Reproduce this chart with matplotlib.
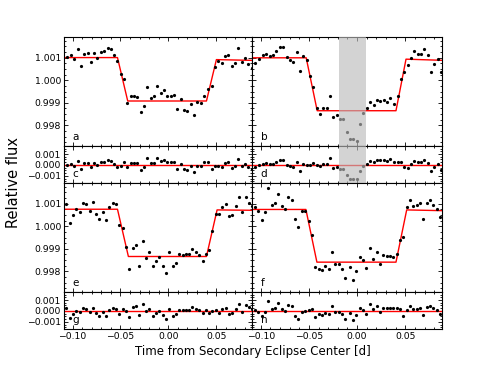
import numpy as np
import matplotlib
matplotlib.use('Agg')
import matplotlib.pyplot as plt
from matplotlib.ticker import MultipleLocator, FuncFormatter

# ---------------- data ----------------
time_a = [-0.1059, -0.1017, -0.0983, -0.0948, -0.0913, -0.0878, -0.0844, -0.0809, -0.0774, -0.0740,
          -0.0705, -0.0670, -0.0635, -0.0601, -0.0566, -0.0531, -0.0497, -0.0462, -0.0427, -0.0392,
          -0.0358, -0.0323, -0.0288, -0.0253, -0.0219, -0.0184, -0.0149, -0.0115, -0.0080, -0.0045,
          -0.0010, 0.0024, 0.0059, 0.0094, 0.0128, 0.0163, 0.0198, 0.0233, 0.0267, 0.0302,
          0.0344, 0.0378, 0.0413, 0.0455, 0.0490, 0.0524, 0.0559, 0.0594, 0.0628, 0.0663,
          0.0698, 0.0733, 0.0767, 0.0802, 0.0837, 0.0872]
flux_a = [1.00103, 1.00112, 1.00094, 1.00140, 1.00063, 1.00115, 1.00119, 1.00079, 1.00119, 1.00099,
          1.00125, 1.00131, 1.00143, 1.00140, 1.00110, 1.00085, 1.00029, 1.00005, 0.99899, 0.99929,
          0.99930, 0.99926, 0.99858, 0.99886, 0.99970, 0.99923, 0.99929, 0.99974, 0.99945, 0.99957,
          0.99932, 0.99932, 0.99933, 0.99871, 0.99917, 0.99868, 0.99865, 0.99895, 0.99846, 0.99902,
          0.99899, 0.99932, 0.99960, 0.99973, 1.00057, 1.00085, 1.00076, 1.00109, 1.00113, 1.00063,
          1.00076, 1.00143, 1.00082, 1.00097, 1.00070, 1.00053]

time_b = [-0.1055, -0.1021, -0.0976, -0.0941, -0.0906, -0.0872, -0.0836, -0.0802, -0.0768, -0.0732,
          -0.0698, -0.0664, -0.0628, -0.0594, -0.0559, -0.0524, -0.0490, -0.0455, -0.0420, -0.0385,
          -0.0351, -0.0316, -0.0281, -0.0247, -0.0211, -0.0175, -0.0143, -0.0107, -0.0073, -0.0039,
          -0.0003, 0.0031, 0.0066, 0.0101, 0.0135, 0.0170, 0.0205, 0.0240, 0.0274, 0.0309,
          0.0344, 0.0378, 0.0420, 0.0455, 0.0490, 0.0524, 0.0559, 0.0594, 0.0628, 0.0663,
          0.0698, 0.0732, 0.0768, 0.0802, 0.0836, 0.0872]
flux_b = [1.00077, 1.00094, 1.00110, 1.00118, 1.00108, 1.00110, 1.00128, 1.00147, 1.00147, 1.00101,
          1.00091, 1.00079, 1.00123, 1.00039, 1.00109, 1.00088, 1.00020, 0.99970, 0.99877, 0.99851,
          0.99877, 0.99877, 0.99929, 0.99837, 0.99847, 0.99830, 0.99830, 0.99773, 0.99740, 0.99740,
          0.99732, 0.99808, 0.99855, 0.99877, 0.99902, 0.99892, 0.99911, 0.99906, 0.99911, 0.99904,
          0.99921, 0.99896, 0.99929, 1.00006, 1.00037, 1.00065, 1.00099, 1.00128, 1.00115, 1.00115,
          1.00140, 1.00110, 1.00038, 1.00072, 1.00094, 1.00037]

time_e = [-0.1066, -0.1031, -0.0997, -0.0962, -0.0927, -0.0892, -0.0858, -0.0823, -0.0788, -0.0753,
          -0.0719, -0.0684, -0.0649, -0.0615, -0.0580, -0.0545, -0.0510, -0.0476, -0.0441, -0.0406,
          -0.0372, -0.0337, -0.0302, -0.0267, -0.0233, -0.0198, -0.0163, -0.0128, -0.0094, -0.0059,
          -0.0024, 0.0010, 0.0045, 0.0080, 0.0115, 0.0149, 0.0184, 0.0219, 0.0253, 0.0288,
          0.0323, 0.0358, 0.0392, 0.0427, 0.0462, 0.0497, 0.0531, 0.0566, 0.0601, 0.0635,
          0.0670, 0.0705, 0.0740, 0.0774, 0.0809, 0.0844, 0.0878]
flux_e = [1.00100, 1.00014, 1.00048, 1.00077, 1.00061, 1.00101, 1.00096, 1.00065, 1.00106, 1.00056,
          1.00030, 1.00064, 1.00027, 1.00083, 1.00104, 1.00096, 1.00005, 0.99994, 0.99908, 0.99812,
          0.99902, 0.99915, 0.99826, 0.99934, 0.99861, 0.99886, 0.99823, 0.99844, 0.99863, 0.99826,
          0.99793, 0.99886, 0.99823, 0.99838, 0.99879, 0.99871, 0.99879, 0.99876, 0.99898, 0.99885,
          0.99873, 0.99848, 0.99879, 0.99896, 0.99978, 1.00052, 1.00052, 1.00087, 1.00097, 1.00046,
          1.00051, 1.00091, 1.00131, 1.00062, 1.00128, 1.00104, 1.00091]

time_f = [-0.1059, -0.1024, -0.0990, -0.0955, -0.0920, -0.0885, -0.0851, -0.0816, -0.0781, -0.0747,
          -0.0712, -0.0677, -0.0642, -0.0608, -0.0573, -0.0538, -0.0500, -0.0465, -0.0434, -0.0399,
          -0.0365, -0.0330, -0.0295, -0.0260, -0.0226, -0.0191, -0.0156, -0.0122, -0.0076, -0.0042,
          -0.0007, 0.0028, 0.0063, 0.0097, 0.0132, 0.0167, 0.0201, 0.0236, 0.0271, 0.0306,
          0.0340, 0.0375, 0.0410, 0.0444, 0.0479, 0.0514, 0.0549, 0.0583, 0.0618, 0.0653,
          0.0688, 0.0722, 0.0757, 0.0792, 0.0826, 0.0861]
flux_f = [1.00083, 1.00067, 1.00026, 1.00062, 1.00168, 1.00094, 1.00103, 1.00144, 1.00088, 1.00074,
          1.00129, 1.00117, 1.00030, 0.99997, 1.00067, 1.00069, 1.00021, 0.99959, 0.99818, 0.99812,
          0.99805, 0.99826, 0.99809, 0.99886, 0.99834, 0.99834, 0.99809, 0.99770, 0.99821, 0.99761,
          0.99802, 0.99864, 0.99850, 0.99816, 0.99903, 0.99857, 0.99887, 0.99834, 0.99871, 0.99869,
          0.99870, 0.99864, 0.99879, 0.99940, 0.99954, 1.00083, 1.00115, 1.00091, 1.00093, 1.00101,
          1.00030, 1.00103, 1.00115, 1.00093, 1.00077, 1.00042]

# best-fit eclipse models (piecewise-linear nodes)
model_t_a = [-0.12, -0.0531, -0.0424, 0.0399, 0.0503, 0.095]
model_f_a = [1.00100, 1.00100, 0.99908, 0.99908, 1.00091, 1.00087]
model_t_b = [-0.12, -0.0528, -0.0414, 0.0403, 0.0507, 0.095]
model_f_b = [1.00099, 1.00099, 0.99865, 0.99865, 1.00093, 1.00087]
model_t_e = [-0.12, -0.0531, -0.0417, 0.0399, 0.0510, 0.095]
model_f_e = [1.00075, 1.00075, 0.99866, 0.99866, 1.00072, 1.00070]
model_t_f = [-0.12, -0.0531, -0.0417, 0.0403, 0.0514, 0.095]
model_f_f = [1.00074, 1.00074, 0.99841, 0.99841, 1.00072, 1.00068]

masked_span = (-0.0183, 0.0096)   # excluded interval in panels b / d

main_labels = ['a', 'b', 'e', 'f']
resid_labels = ['c', 'd', 'g', 'h']
xticks = [-0.10, -0.05, 0.00, 0.05]
main_yticks = [0.998, 0.999, 1.000, 1.001]
resid_yticks = [-0.001, 0.000, 0.001]

# ---------------- figure ----------------
W, H = 491, 367
fig = plt.figure(figsize=(W / 100, H / 100), dpi=100)

xl = [64, 252, 441.5]
rows = [(37, 146), (146, 183), (183, 292), (292, 329)]

def ax_at(col, row):
    x0, x1 = xl[col], xl[col + 1]
    y0, y1 = rows[row]
    return fig.add_axes([x0 / W, 1 - y1 / H, (x1 - x0) / W, (y1 - y0) / H])

def fmt(nd):
    return FuncFormatter(lambda v, p: ('%.*f' % (nd, v)).replace('-', '\u2212'))

XLIM = (-0.109, 0.0875)
TICKFS = 6.7

def style(ax, main, showx, showy):
    ax.set_xlim(*XLIM)
    ax.xaxis.set_major_locator(MultipleLocator(0.05))
    ax.xaxis.set_minor_locator(MultipleLocator(0.01))
    ax.yaxis.set_major_locator(MultipleLocator(0.001))
    ax.yaxis.set_minor_locator(MultipleLocator(0.00025))
    ax.xaxis.set_major_formatter(fmt(2))
    ax.yaxis.set_major_formatter(fmt(3))
    ax.tick_params(which='both', direction='in', top=True, right=True,
                   labelsize=TICKFS, width=0.6, pad=2.2)
    ax.tick_params(which='major', length=2.8)
    ax.tick_params(which='minor', length=1.4)
    if not showx:
        ax.tick_params(labelbottom=False)
    if not showy:
        ax.tick_params(labelleft=False)
    for s in ax.spines.values():
        s.set_linewidth(0.8)

datasets = [
    (time_a, flux_a, model_t_a, model_f_a),
    (time_b, flux_b, model_t_b, model_f_b),
    (time_e, flux_e, model_t_e, model_f_e),
    (time_f, flux_f, model_t_f, model_f_f),
]

for k, (tt, ff, mt, mf) in enumerate(datasets):
    col = k % 2
    prow = 0 if k < 2 else 2
    t = np.array(tt)
    f = np.array(ff)
    model = np.interp(t, mt, mf)
    resid = f - model

    axm = ax_at(col, prow)
    axr = ax_at(col, prow + 1)

    axm.plot(mt, mf, color='red', lw=1.0, zorder=2)
    axm.plot(t, f, 'o', color='black', ms=2.3, mew=0, zorder=3)
    axm.set_ylim(0.99709, 1.00191)
    axm.set_yticks(main_yticks)
    style(axm, True, False, col == 0)
    axm.text(0.045, 0.055, main_labels[k], transform=axm.transAxes,
             fontsize=7.5, ha='left', va='baseline')

    axr.axhline(0.0, color='red', lw=1.0, zorder=2)
    axr.plot(t, resid, 'o', color='black', ms=2.3, mew=0, zorder=3)
    axr.set_ylim(-0.00166, 0.00174)
    style(axr, False, prow == 2, col == 0)
    axr.set_yticks(resid_yticks)
    axr.text(0.045, 0.15, resid_labels[k], transform=axr.transAxes,
             fontsize=7.5, ha='left', va='baseline')

    if k == 1:
        for a in (axm, axr):
            a.axvspan(masked_span[0], masked_span[1], color='#bbbbbb',
                      alpha=0.64, lw=0, zorder=5)

fig.text(252.5 / W, 1 - 351 / H, 'Time from Secondary Eclipse Center [d]',
         ha='center', va='center', fontsize=8.5)
fig.text(14 / W, 1 - 183 / H, 'Relative flux', rotation=90,
         ha='center', va='center', fontsize=10.5)

fig.savefig('out.png', dpi=100)
